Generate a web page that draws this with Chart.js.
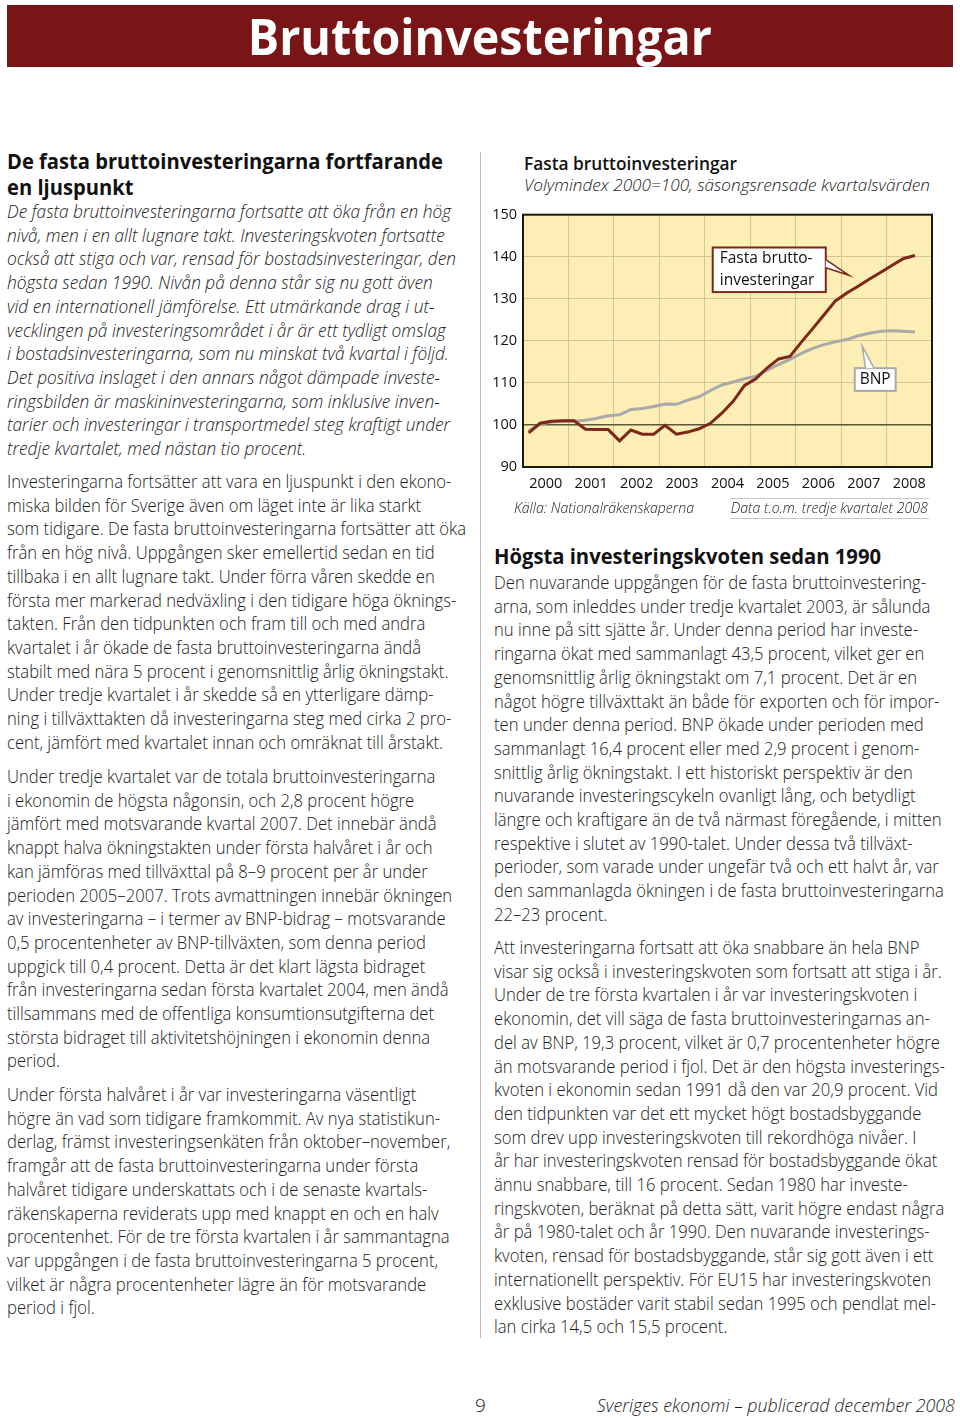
<!DOCTYPE html>
<html lang="sv">
<head>
<meta charset="utf-8">
<title>Bruttoinvesteringar</title>
<script src="https://cdn.jsdelivr.net/npm/chart.js@4.4.1/dist/chart.umd.min.js"></script>
<style>
    body {
        margin: 0;
        width: 960px;
        height: 1418px;
        position: relative;
        background: #fff;
        font-family: "Open Sans", sans-serif;
        color: #1a1a1a;
        overflow: hidden;
    }
    .abs { position: absolute; }
    .band {
        left: 7px; top: 5px; width: 946px; height: 62px;
        background: #7a1517;
    }
    .band-title {
        left: 0; top: 0; width: 960px; height: 72px;
        text-align: center;
        line-height: 72px;
        font-size: 50px;
        font-weight: 700;
        color: #fff;
    }
    .fit { white-space: pre; transform-origin: 0 0; display: inline-block; }
    .h2 { font-size: 21px; font-weight: 700; line-height: 26px; color: #111; }
    .p { font-size: 18px; font-weight: 300; line-height: 23.7px; }
    .p.it { font-style: italic; }
    .rule { left: 480px; top: 152px; width: 1px; height: 1186px; background: #b9b9b9; }
    .ctitle { font-size: 18px; font-weight: 600; line-height: 22px; color: #111; }
    .csub { font-size: 17px; font-style: italic; font-weight: 300; line-height: 22px; }
    .src { font-size: 14.5px; font-style: italic; font-weight: 300; line-height: 20px; }
    .srcline { height: 1px; background: #c8c8c8; }
    .foot { font-size: 19px; font-weight: 300; line-height: 24px; }
</style>
</head>
<body>

<div class="abs band"></div>
<div class="abs band-title"><span class="fit" style="transform-origin:50% 0" data-w="464">Bruttoinvesteringar</span></div>

<div class="abs rule"></div>

<!-- vänster spalt -->
<div class="abs fit h2" style="left:7px;top:148px" data-w="436" data-ref="refH1"><span id="refH1">De fasta bruttoinvesteringarna fortfarande</span>
en ljuspunkt</div>

<div class="abs fit p it" style="left:7px;top:200px" data-w="444" data-ref="refIt"><span id="refIt">De fasta bruttoinvesteringarna fortsatte att öka från en hög</span>
nivå, men i en allt lugnare takt. Investeringskvoten fortsatte
också att stiga och var, rensad för bostadsinvesteringar, den
högsta sedan 1990. Nivån på denna står sig nu gott även
vid en internationell jämförelse. Ett utmärkande drag i ut-
vecklingen på investeringsområdet i år är ett tydligt omslag
i bostadsinvesteringarna, som nu minskat två kvartal i följd.
Det positiva inslaget i den annars något dämpade investe-
ringsbilden är maskininvesteringarna, som inklusive inven-
tarier och investeringar i transportmedel steg kraftigt under
tredje kvartalet, med nästan tio procent.</div>

<div class="abs fit p" style="left:7px;top:470px" data-w="459" data-ref="refL">Investeringarna fortsätter att vara en ljuspunkt i den ekono-
miska bilden för Sverige även om läget inte är lika starkt
<span id="refL">som tidigare. De fasta bruttoinvesteringarna fortsätter att öka</span>
från en hög nivå. Uppgången sker emellertid sedan en tid
tillbaka i en allt lugnare takt. Under förra våren skedde en
första mer markerad nedväxling i den tidigare höga öknings-
takten. Från den tidpunkten och fram till och med andra
kvartalet i år ökade de fasta bruttoinvesteringarna ändå
stabilt med nära 5 procent i genomsnittlig årlig ökningstakt.
Under tredje kvartalet i år skedde så en ytterligare dämp-
ning i tillväxttakten då investeringarna steg med cirka 2 pro-
cent, jämfört med kvartalet innan och omräknat till årstakt.</div>

<div class="abs fit p" style="left:7px;top:765px" data-w="459" data-ref="refL">Under tredje kvartalet var de totala bruttoinvesteringarna
i ekonomin de högsta någonsin, och 2,8 procent högre
jämfört med motsvarande kvartal 2007. Det innebär ändå
knappt halva ökningstakten under första halvåret i år och
kan jämföras med tillväxttal på 8–9 procent per år under
perioden 2005–2007. Trots avmattningen innebär ökningen
av investeringarna – i termer av BNP-bidrag – motsvarande
0,5 procentenheter av BNP-tillväxten, som denna period
uppgick till 0,4 procent. Detta är det klart lägsta bidraget
från investeringarna sedan första kvartalet 2004, men ändå
tillsammans med de offentliga konsumtionsutgifterna det
största bidraget till aktivitetshöjningen i ekonomin denna
period.</div>

<div class="abs fit p" style="left:7px;top:1083px" data-w="459" data-ref="refL">Under första halvåret i år var investeringarna väsentligt
högre än vad som tidigare framkommit. Av nya statistikun-
derlag, främst investeringsenkäten från oktober–november,
framgår att de fasta bruttoinvesteringarna under första
halvåret tidigare underskattats och i de senaste kvartals-
räkenskaperna reviderats upp med knappt en och en halv
procentenhet. För de tre första kvartalen i år sammantagna
var uppgången i de fasta bruttoinvesteringarna 5 procent,
vilket är några procentenheter lägre än för motsvarande
period i fjol.</div>

<!-- diagram -->
<div class="abs fit ctitle" style="left:524px;top:152px" data-w="213">Fasta bruttoinvesteringar</div>
<div class="abs fit csub" style="left:524px;top:174px" data-w="406">Volymindex 2000=100, säsongsrensade kvartalsvärden</div>
<canvas id="chart" class="abs" style="left:480px;top:200px" width="480" height="300"></canvas>
<div class="abs srcline" style="left:730px;top:498px;width:199px"></div>
<div class="abs srcline" style="left:730px;top:518px;width:199px"></div>
<div class="abs fit src" style="left:514px;top:498px" data-w="180">Källa: Nationalräkenskaperna</div>
<div class="abs src" style="left:700px;top:498px;width:228px;text-align:right"><span class="fit" style="transform-origin:100% 0" data-w="197">Data t.o.m. tredje kvartalet 2008</span></div>

<!-- höger spalt -->
<div class="abs fit h2" style="left:494px;top:545px;line-height:22px" data-w="387">Högsta investeringskvoten sedan 1990</div>

<div class="abs fit p" style="left:494px;top:571px" data-w="432" data-ref="refR"><span id="refR">Den nuvarande uppgången för de fasta bruttoinvestering-</span>
arna, som inleddes under tredje kvartalet 2003, är sålunda
nu inne på sitt sjätte år. Under denna period har investe-
ringarna ökat med sammanlagt 43,5 procent, vilket ger en
genomsnittlig årlig ökningstakt om 7,1 procent. Det är en
något högre tillväxttakt än både för exporten och för impor-
ten under denna period. BNP ökade under perioden med
sammanlagt 16,4 procent eller med 2,9 procent i genom-
snittlig årlig ökningstakt. I ett historiskt perspektiv är den
nuvarande investeringscykeln ovanligt lång, och betydligt
längre och kraftigare än de två närmast föregående, i mitten
respektive i slutet av 1990-talet. Under dessa två tillväxt-
perioder, som varade under ungefär två och ett halvt år, var
den sammanlagda ökningen i de fasta bruttoinvesteringarna
22–23 procent.</div>

<div class="abs fit p" style="left:494px;top:936px" data-w="432" data-ref="refR">Att investeringarna fortsatt att öka snabbare än hela BNP
visar sig också i investeringskvoten som fortsatt att stiga i år.
Under de tre första kvartalen i år var investeringskvoten i
ekonomin, det vill säga de fasta bruttoinvesteringarnas an-
del av BNP, 19,3 procent, vilket är 0,7 procentenheter högre
än motsvarande period i fjol. Det är den högsta investerings-
kvoten i ekonomin sedan 1991 då den var 20,9 procent. Vid
den tidpunkten var det ett mycket högt bostadsbyggande
som drev upp investeringskvoten till rekordhöga nivåer. I
år har investeringskvoten rensad för bostadsbyggande ökat
ännu snabbare, till 16 procent. Sedan 1980 har investe-
ringskvoten, beräknat på detta sätt, varit högre endast några
år på 1980-talet och år 1990. Den nuvarande investerings-
kvoten, rensad för bostadsbyggande, står sig gott även i ett
internationellt perspektiv. För EU15 har investeringskvoten
exklusive bostäder varit stabil sedan 1995 och pendlat mel-
lan cirka 14,5 och 15,5 procent.</div>

<!-- sidfot -->
<div class="abs foot" style="left:475px;top:1393px">9</div>
<div class="abs foot" style="left:560px;top:1393px;width:395px;text-align:right"><span class="fit" style="font-style:italic;transform-origin:100% 0" data-w="358">Sveriges ekonomi – publicerad december 2008</span></div>

<script>
// kvartalsvärden 2000 kv1 – 2008 kv3, volymindex 2000=100
const years = ["2000", "2001", "2002", "2003", "2004", "2005", "2006", "2007", "2008"];

const investeringar = [
    98.1, 100.4, 100.9, 101.0,
    101.0, 99.0, 98.9, 98.9,
    96.2, 98.8, 97.8, 97.8,
    99.9, 97.8, 98.3, 99.1,
    100.4, 102.8, 105.6, 109.4,
    111.0, 113.6, 115.7, 116.3,
    119.7, 122.9, 126.2, 129.5,
    131.4, 133.0, 134.7, 136.3,
    138.0, 139.6, 140.3
];

const bnp = [
    98.6, 100.2, 100.7, 100.9,
    100.9, 101.1, 101.6, 102.2,
    102.4, 103.7, 103.9, 104.4,
    105.0, 104.9, 105.9, 106.7,
    108.2, 109.5, 110.2, 111.0,
    111.6, 113.0, 114.4, 115.6,
    117.0, 118.2, 119.1, 119.8,
    120.3, 121.2, 121.8, 122.3,
    122.4, 122.3, 122.1
];

const yMin = 90;
const yMax = 150;

// punkterna ligger mitt i varje kvartal
function toPoints(values) {
    return values.map((v, i) => ({ x: i + 0.5, y: v }));
}

const RED = "#7c2718";
const GREY = "#a9a9a9";

// etikettrutor i diagrammets egna enheter (kvartal, indexvärde)
const labelBoxes = [
    {
        lines: ["Fasta brutto-", "investeringar"],
        x1: 16.7, x2: 26.65, y1: 142.2, y2: 131.6,
        tip: { x: 28.7, y: 135.6 },
        base: [{ x: 26.65, y: 139.3 }, { x: 26.65, y: 137.4 }],
        color: RED
    },
    {
        lines: ["BNP"],
        x1: 29.2, x2: 32.8, y1: 113.5, y2: 108.1,
        tip: { x: 29.85, y: 118.8 },
        base: [{ x: 30.15, y: 113.5 }, { x: 30.9, y: 113.5 }],
        color: GREY
    }
];

const areaPlugin = {
    id: "area",
    beforeDraw(chart) {
        const { ctx, chartArea: a } = chart;
        ctx.save();
        ctx.fillStyle = "#fdeeb6";
        ctx.fillRect(a.left, a.top, a.right - a.left, a.bottom - a.top);
        ctx.restore();
    },
    afterDraw(chart) {
        const { ctx, chartArea: a, scales } = chart;
        const sx = scales.x, sy = scales.y;
        ctx.save();
        ctx.strokeStyle = "#1d1a14";
        ctx.lineWidth = 2;
        ctx.strokeRect(a.left, a.top, a.right - a.left, a.bottom - a.top);

        labelBoxes.forEach(b => {
            const left = sx.getPixelForValue(b.x1);
            const right = sx.getPixelForValue(b.x2);
            const top = sy.getPixelForValue(b.y1);
            const bottom = sy.getPixelForValue(b.y2);
            ctx.fillStyle = "#fff";
            ctx.strokeStyle = b.color;
            ctx.lineWidth = 2;
            ctx.fillRect(left, top, right - left, bottom - top);
            ctx.strokeRect(left, top, right - left, bottom - top);

            const tx = sx.getPixelForValue(b.tip.x), ty = sy.getPixelForValue(b.tip.y);
            const p1 = { x: sx.getPixelForValue(b.base[0].x), y: sy.getPixelForValue(b.base[0].y) };
            const p2 = { x: sx.getPixelForValue(b.base[1].x), y: sy.getPixelForValue(b.base[1].y) };
            ctx.beginPath();
            ctx.moveTo(p1.x, p1.y);
            ctx.lineTo(tx, ty);
            ctx.lineTo(p2.x, p2.y);
            ctx.closePath();
            ctx.fill();
            ctx.beginPath();
            ctx.moveTo(p1.x, p1.y);
            ctx.lineTo(tx, ty);
            ctx.lineTo(p2.x, p2.y);
            ctx.lineWidth = 1.5;
            ctx.stroke();

            ctx.fillStyle = "#111";
            ctx.font = "15.5px 'Open Sans'";
            ctx.textBaseline = "middle";
            const lh = 22;
            const mid = (top + bottom) / 2;
            b.lines.forEach((t, i) => {
                const y = mid + (i - (b.lines.length - 1) / 2) * lh;
                if (b.lines.length === 1) {
                    ctx.textAlign = "center";
                    ctx.fillText(t, (left + right) / 2, y);
                } else {
                    ctx.textAlign = "left";
                    ctx.fillText(t, left + 7, y);
                }
            });
        });
        ctx.restore();
    }
};

new Chart(document.getElementById("chart"), {
    type: "line",
    data: {
        datasets: [
            {
                label: "Fasta bruttoinvesteringar",
                data: toPoints(investeringar),
                borderColor: RED,
                borderWidth: 3,
                pointRadius: 0,
                tension: 0
            },
            {
                label: "BNP",
                data: toPoints(bnp),
                borderColor: GREY,
                borderWidth: 3,
                pointRadius: 0,
                tension: 0
            }
        ]
    },
    options: {
        responsive: false,
        animation: false,
        devicePixelRatio: 1,
        layout: { padding: { top: 12, right: 28, left: 0, bottom: 0 } },
        plugins: {
            legend: { display: false },
            tooltip: { enabled: false }
        },
        scales: {
            x: {
                type: "linear",
                min: 0,
                max: years.length * 4,
                position: "bottom",
                afterBuildTicks: axis => {
                    axis.ticks = years.concat([""]).map((y, i) => ({ value: i * 4 }));
                },
                ticks: { display: false },
                grid: { color: "#d6c493", lineWidth: 1, drawTicks: false },
                border: { display: false },
                afterFit: axis => { axis.height = 0; }
            },
            years: {
                type: "linear",
                min: 0,
                max: years.length * 4,
                position: "bottom",
                afterBuildTicks: axis => {
                    axis.ticks = years.map((y, i) => ({ value: i * 4 + 2 }));
                },
                ticks: {
                    autoSkip: false,
                    maxRotation: 0,
                    padding: 8,
                    color: "#111",
                    font: { family: "Open Sans", size: 14.5 },
                    callback: v => years[(v - 2) / 4]
                },
                grid: { display: false, drawTicks: false },
                border: { display: false },
                afterFit: axis => { axis.height = 33; }
            },
            y: {
                min: yMin,
                max: yMax,
                ticks: {
                    stepSize: 10,
                    padding: 6,
                    color: "#111",
                    font: { family: "Open Sans", size: 14.5 }
                },
                grid: {
                    drawTicks: false,
                    color: c => c.tick && c.tick.value === 100 ? "#5d573a" : "#d6c493",
                    lineWidth: c => c.tick && c.tick.value === 100 ? 1.6 : 1
                },
                border: { display: false },
                afterFit: axis => { axis.width = 43; }
            }
        }
    },
    plugins: [areaPlugin]
});

// textrader skalas i sidled så att radlängderna stämmer med förlagan
document.fonts.ready.then(() => {
    const els = Array.from(document.querySelectorAll("[data-w]"));
    const widths = els.map(el => {
        const ref = el.dataset.ref ? document.getElementById(el.dataset.ref) : el;
        return ref.getBoundingClientRect().width;
    });
    els.forEach((el, i) => {
        el.style.transform = "scaleX(" + (+el.dataset.w / widths[i]) + ")";
    });
});
</script>
</body>
</html>
